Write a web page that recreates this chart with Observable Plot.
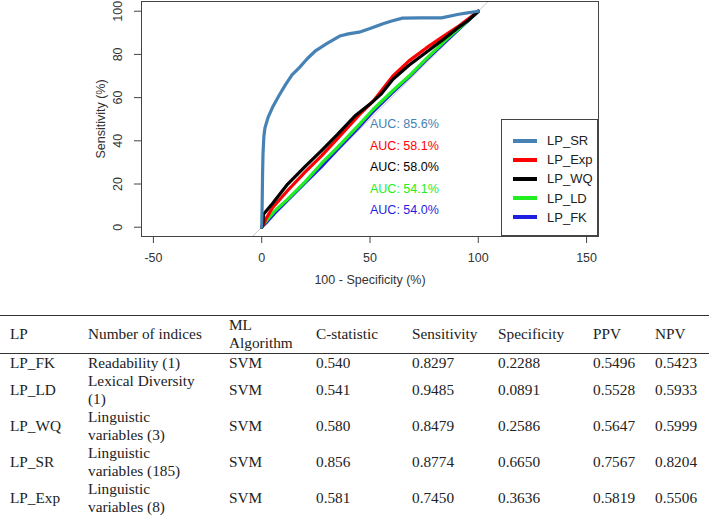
<!DOCTYPE html>
<html>
<head>
<meta charset="utf-8">
<script src="https://cdn.jsdelivr.net/npm/d3@7"></script>
<script src="https://cdn.jsdelivr.net/npm/@observablehq/plot@0.6"></script>
<style>
  html, body { margin: 0; padding: 0; background: #fff; }
  #wrap { position: relative; width: 709px; }
  #legend { position: absolute; left: 501px; top: 119px; width: 97px; height: 117px;
    border: 1px solid #444; background: #fff; font-family: "Liberation Sans", Arial, sans-serif;
    font-size: 13px; color: #222; padding-top: 11px; box-sizing: border-box; }
  .li { height: 19.2px; display: flex; align-items: center; }
  .li .sw { width: 24px; height: 4px; margin-left: 11px; margin-right: 10px; }
  table { border-collapse: collapse; table-layout: fixed; width: 709px; margin-top: 19px;
    font-family: "Liberation Serif", "Times New Roman", serif; font-size: 15.3px; color: #222; line-height: 18px; }
  th, td { text-align: left; font-weight: normal; padding: 0; vertical-align: middle; }
  thead tr { border-top: 1.5px solid #333; border-bottom: 1.5px solid #333; }
  thead th { padding: 0 0 1px 0; height: 35px; }
  td.c0, th.c0 { padding-left: 10px; }
  td.c1, th.c1 { padding-right: 23px; }
  th.c2 { padding-right: 17px; }
</style>
</head>
<body>
<div id="wrap"></div>
<script>
// ---- ROC data (100 - specificity, sensitivity), in percent ----
const srX  = [0, 0.2, 0.4, 0.6, 1, 1.5, 3, 5, 8, 11, 14, 17.5, 21, 25, 30, 36, 40, 45, 50, 56, 60, 65, 73, 83, 91, 95, 100];
const srY  = [0, 10, 25, 34, 42, 46, 51, 55.5, 61, 66, 70.5, 74, 78, 81.8, 85, 88.5, 89.5, 90.3, 92, 94.2, 95.5, 96.8, 96.9, 96.9, 98.6, 99.2, 100];
const expX = [0, 1, 2, 5, 12, 20, 27.6, 35, 45, 52, 60.6, 68, 76, 84, 91.5, 100];
const expY = [0, 1.5, 4, 9, 17, 25.5, 33, 41, 52, 59, 70, 77, 83, 88.5, 93.5, 100];
const wqX  = [0, 0.5, 0.8, 1.5, 5, 12, 20, 27.6, 35, 43, 50, 55, 60.6, 68, 76, 84, 91.5, 95.3, 100];
const wqY  = [0, 1, 6, 6.8, 11, 20, 28, 35.5, 43, 51.5, 57, 61.5, 68.5, 75, 81, 87, 93, 95.7, 100];
const ldX  = [0, 1, 3, 6, 12, 20, 27.6, 35, 45, 51.4, 60.6, 68, 76, 85.3, 95, 100];
const ldY  = [0, 1.5, 4, 7.5, 13, 21, 29.5, 37, 47.5, 54.5, 63.3, 70, 78, 87, 95.5, 100];
const fkX  = [0, 2, 6, 12, 20, 27.6, 35, 45, 51, 60, 68, 76, 85, 95, 100];
const fkY  = [0, 2, 6.5, 12.5, 20.5, 28, 36, 46.5, 53, 62, 69.5, 77.5, 86, 95.3, 100];

const seriesNames  = ["LP_SR", "LP_Exp", "LP_WQ", "LP_LD", "LP_FK"];
const seriesColors = ["#4682b4", "#ff0000", "#000000", "#22ee22", "#1f1fe0"];
const aucLabels    = ["AUC: 85.6%", "AUC: 58.1%", "AUC: 58.0%", "AUC: 54.1%", "AUC: 54.0%"];
const seriesX = [srX, expX, wqX, ldX, fkX];
const seriesY = [srY, expY, wqY, ldY, fkY];

const xTicks = [-50, 0, 50, 100, 150];
const yTicks = [0, 20, 40, 60, 80, 100];
const xDomain = [-55.5, 155.5];
const yDomain = [-4.3, 104.5];

// ---- table data ----
const tableHeader = ["LP", "Number of indices", "ML Algorithm", "C-statistic", "Sensitivity", "Specificity", "PPV", "NPV"];
const tLP      = ["LP_FK", "LP_LD", "LP_WQ", "LP_SR", "LP_Exp"];
const tIndices = ["Readability (1)", "Lexical Diversity (1)", "Linguistic variables (3)", "Linguistic variables (185)", "Linguistic variables (8)"];
const tAlgo    = ["SVM", "SVM", "SVM", "SVM", "SVM"];
const tCstat   = ["0.540", "0.541", "0.580", "0.856", "0.581"];
const tSens    = ["0.8297", "0.9485", "0.8479", "0.8774", "0.7450"];
const tSpec    = ["0.2288", "0.0891", "0.2586", "0.6650", "0.3636"];
const tPPV     = ["0.5496", "0.5528", "0.5647", "0.7567", "0.5819"];
const tNPV     = ["0.5423", "0.5933", "0.5999", "0.8204", "0.5506"];

// build long-format rows
const rows = [];
seriesNames.forEach((name, i) => {
  seriesX[i].forEach((x, j) => rows.push({series: name, x, y: seriesY[i][j]}));
});
const drawOrder = ["LP_FK", "LP_LD", "LP_Exp", "LP_WQ", "LP_SR"];
const aucRows = seriesNames.map((s, i) => ({series: s, label: aucLabels[i], x: 50, y: 50 - 10 * i}));
const diag = [{v: yDomain[0]}, {v: yDomain[1]}];

const colorOf = Object.fromEntries(seriesNames.map((s, i) => [s, seriesColors[i]]));

const chart = Plot.plot({
  width: 709,
  height: 296,
  marginLeft: 141,
  marginRight: 111,
  marginTop: 1,
  marginBottom: 60,
  style: {fontFamily: "'Liberation Sans', Arial, sans-serif", fontSize: "12.5px", color: "#333", background: "#fff"},
  x: {domain: xDomain},
  y: {domain: yDomain},
  marks: [
    Plot.line(diag, {x: "v", y: "v", stroke: "#c8c8c8", strokeWidth: 1, clip: true}),
    ...drawOrder.map(s => Plot.line(rows.filter(r => r.series === s), {
      x: "x", y: "y", stroke: colorOf[s], strokeWidth: 3.2, strokeLinejoin: "round", strokeLinecap: "round"
    })),
    Plot.text(aucRows, {x: "x", y: "y", text: "label", fill: d => colorOf[d.series],
      textAnchor: "start", lineAnchor: "top", fontSize: 12.5}),
    Plot.frame({stroke: "#444"}),
    Plot.axisX({ticks: xTicks, tickSize: 7, tickPadding: 10, tickFormat: d => String(d), label: null, stroke: "#444", fill: "#333"}),
    Plot.text(["100 - Specificity (%)"], {frameAnchor: "bottom", dy: 47, fill: "#333", fontSize: 12.5}),
    Plot.axisY({ticks: yTicks, tickSize: 7, tickFormat: () => "", label: null, stroke: "#444"}),
    Plot.text(yTicks, {y: d => d, text: d => String(d), frameAnchor: "left", textAnchor: "middle", dx: -24, rotate: -90, fill: "#333", fontSize: 12.5}),
    Plot.text(["Sensitivity (%)"], {frameAnchor: "left", textAnchor: "middle", dx: -41, rotate: -90, fill: "#333", fontSize: 12.5})
  ]
});

const wrap = document.getElementById("wrap");
wrap.appendChild(chart);

// legend (inside plot area, bottom right)
const legend = document.createElement("div");
legend.id = "legend";
seriesNames.forEach((s, i) => {
  const li = document.createElement("div");
  li.className = "li";
  const sw = document.createElement("span");
  sw.className = "sw";
  sw.style.background = seriesColors[i];
  const tx = document.createElement("span");
  tx.textContent = s;
  li.appendChild(sw); li.appendChild(tx);
  legend.appendChild(li);
});
wrap.appendChild(legend);

// table
const colW = [88, 141, 87, 96, 86, 95, 62, 54];
const table = document.createElement("table");
const cg = document.createElement("colgroup");
colW.forEach(w => { const c = document.createElement("col"); c.style.width = w + "px"; cg.appendChild(c); });
table.appendChild(cg);
const thead = document.createElement("thead");
const hr = document.createElement("tr");
tableHeader.forEach((h, i) => { const th = document.createElement("th"); th.className = "c" + i; th.textContent = h; hr.appendChild(th); });
thead.appendChild(hr);
table.appendChild(thead);
const tbody = document.createElement("tbody");
tLP.forEach((lp, r) => {
  const tr = document.createElement("tr");
  [lp, tIndices[r], tAlgo[r], tCstat[r], tSens[r], tSpec[r], tPPV[r], tNPV[r]].forEach((v, i) => {
    const td = document.createElement("td"); td.className = "c" + i; td.textContent = v; tr.appendChild(td);
  });
  tbody.appendChild(tr);
});
table.appendChild(tbody);
wrap.appendChild(table);
</script>
</body>
</html>
